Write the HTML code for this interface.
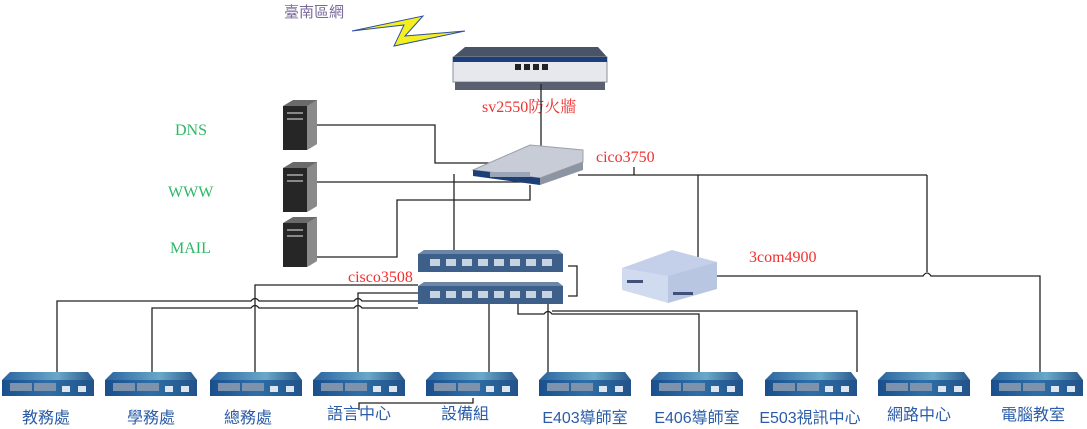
<!DOCTYPE html>
<html><head><meta charset="utf-8"><style>
html,body{margin:0;padding:0;background:#fff;}
svg{display:block;}
.r{font-family:"Liberation Serif","Noto Serif CJK SC",serif;font-size:16px;fill:#f03030;}
.g{font-family:"Liberation Serif",serif;font-size:16px;fill:#2db865;}
.b{font-family:"Liberation Sans","Noto Sans CJK TC",sans-serif;font-size:16px;fill:#2b5ca8;}
</style></head><body>
<svg width="1087" height="429" viewBox="0 0 1087 429" xmlns="http://www.w3.org/2000/svg">
<defs>
<linearGradient id="sw" x1="0" y1="0" x2="1" y2="0">
<stop offset="0" stop-color="#1a4f8c"/><stop offset="0.5" stop-color="#2f6fa8"/><stop offset="1" stop-color="#22528a"/></linearGradient>
<linearGradient id="swt" x1="0" y1="0" x2="1" y2="0">
<stop offset="0" stop-color="#2a64a0"/><stop offset="0.6" stop-color="#6aa8c8"/><stop offset="1" stop-color="#27588c"/></linearGradient>
<g id="es">
<polygon points="0,8 8,0 86,0 92,8" fill="url(#swt)"/>
<rect x="0" y="8" width="92" height="16" fill="url(#sw)"/>
<rect x="8" y="11" width="22" height="8" fill="#7d93ad"/>
<rect x="32" y="11" width="22" height="8" fill="#7d93ad"/>
<rect x="60" y="14" width="8" height="6" fill="#dde6ee"/>
<rect x="76" y="14" width="8" height="6" fill="#dde6ee"/>
</g>
<g id="c35">
<polygon points="0,4 6,0 140,0 145,4" fill="#6b86a8"/>
<rect x="0" y="4" width="145" height="18" fill="#3d5f8a"/>
<g fill="#c8d4e0"><rect x="12" y="9" width="10" height="7"/><rect x="28" y="9" width="10" height="7"/><rect x="44" y="9" width="10" height="7"/><rect x="60" y="9" width="10" height="7"/><rect x="76" y="9" width="10" height="7"/><rect x="92" y="9" width="10" height="7"/><rect x="108" y="9" width="10" height="7"/><rect x="124" y="9" width="10" height="7"/></g>
</g>
<g id="srv">
<polygon points="0,6 10,0 34,0 34,44 24,50 0,50" fill="#6a6a6a"/>
<rect x="0" y="6" width="24" height="44" fill="#262626"/>
<rect x="4" y="12" width="16" height="2" fill="#888"/>
<rect x="4" y="18" width="16" height="2" fill="#888"/>
<polygon points="24,6 34,0 34,44 24,50" fill="#8a8a8a"/>
</g>
</defs>

<text x="284" y="17" font-family="Liberation Sans,'Noto Sans CJK TC',sans-serif" font-size="15" fill="#7a6a9a">臺南區網</text>
<polygon points="352,31 423,16 405,36 465,31 394,46 404,25" fill="#f4f020" stroke="#3050a0" stroke-width="1"/>

<!-- firewall -->
<polygon points="453,57 465,47 598,47 607,57" fill="#4a5468"/>
<rect x="453" y="57" width="154" height="25" fill="#e6e8ee" stroke="#8a8f9a"/>
<rect x="453" y="57" width="154" height="5" fill="#1c3e7a"/>
<rect x="455" y="82" width="150" height="8" fill="#5a6070"/>
<g fill="#222"><rect x="515" y="64" width="6" height="6"/><rect x="524" y="64" width="6" height="6"/><rect x="533" y="64" width="6" height="6"/><rect x="542" y="64" width="6" height="6"/></g>
<text class="r" x="482" y="112">sv2550防火牆</text>

<!-- lines -->
<g stroke="#222" stroke-width="1.3" fill="none">
<polyline points="541,84 541,152"/>
<polyline points="317,125 435,125 435,163 492,163"/>
<polyline points="317,182 530,182"/>
<polyline points="317,257 397,257 397,200 530,200 530,185"/>
<polyline points="454,174 454,250"/>
<polyline points="578,175 927,175"/>
<polyline points="634,167 634,175"/>
<polyline points="698,175 698,257"/>
<polyline points="927,175 927,272 M927,280 927,375"/>
<path d="M713,276 L923,276 Q927,270 931,276 L1040,276 L1040,375"/>
<polyline points="568,266 577,266 577,296 568,296"/>
<path d="M418,285 L255,285 L255,372"/>
<path d="M418,293 L358,293 L358,372"/>
<path d="M418,301 L362,301 Q358,296 354,301 L259,301 Q255,296 251,301 L57,301 L57,372"/>
<path d="M418,308 L362,308 Q358,303 354,308 L259,308 Q255,303 251,308 L152,308 L152,372"/>
<path d="M489,303 L489,372"/>
<path d="M548,303 L548,372"/>
<path d="M518,303 L518,314 L544,314 Q548,309 552,314 L699,314 L699,372"/>
<path d="M552,311 L857,311 L857,372"/>
<path d="M359,410 L359,403 L473,403 L473,398"/>
</g>

<!-- servers -->
<use href="#srv" x="283" y="100"/>
<use href="#srv" x="283" y="162"/>
<use href="#srv" x="283" y="217"/>
<text class="g" x="175" y="135">DNS</text>
<text class="g" x="168" y="197">WWW</text>
<text class="g" x="170" y="253">MAIL</text>

<!-- cisco3750 -->
<polygon points="473,170 530,145 583,150 583,162 540,178" fill="#c8ccd6" stroke="#9aa0ac"/>
<polygon points="473,170 540,178 540,185 473,176" fill="#1d3f78"/>
<polygon points="540,178 583,162 583,170 540,185" fill="#8d94a2"/>
<rect x="490" y="172" width="40" height="5" fill="#9aa6b8"/>
<text class="r" x="596" y="162">cico3750</text>

<!-- cisco3508 -->
<use href="#c35" x="418" y="250"/>
<use href="#c35" x="418" y="282"/>
<text class="r" x="348" y="282">cisco3508</text>

<!-- 3com -->
<polygon points="622,268 672,250 717,262 717,270 668,288 622,280" fill="#c4d0ea"/>
<polygon points="622,268 668,276 668,303 622,290" fill="#d0dbef"/>
<polygon points="668,276 717,262 717,289 668,303" fill="#b8c6e2"/>
<g fill="#40507a"><rect x="627" y="280" width="16" height="3"/><rect x="673" y="292" width="20" height="3"/></g>
<text class="r" x="749" y="262">3com4900</text>

<!-- bottom switches -->
<use href="#es" x="2" y="372"/>
<use href="#es" x="105" y="372"/>
<use href="#es" x="210" y="372"/>
<use href="#es" x="313" y="372"/>
<use href="#es" x="426" y="372"/>
<use href="#es" x="539" y="372"/>
<use href="#es" x="651" y="372"/>
<use href="#es" x="765" y="372"/>
<use href="#es" x="878" y="372"/>
<use href="#es" x="991" y="372"/>
<g text-anchor="middle">
<text class="b" x="46" y="423">教務處</text>
<text class="b" x="151" y="423">學務處</text>
<text class="b" x="248" y="423">總務處</text>
<text class="b" x="359" y="419">語言中心</text>
<text class="b" x="465" y="419">設備組</text>
<text class="b" x="585" y="423">E403導師室</text>
<text class="b" x="697" y="423">E406導師室</text>
<text class="b" x="810" y="423">E503視訊中心</text>
<text class="b" x="919" y="420">網路中心</text>
<text class="b" x="1033" y="420">電腦教室</text>
</g>
</svg>
</body></html>
